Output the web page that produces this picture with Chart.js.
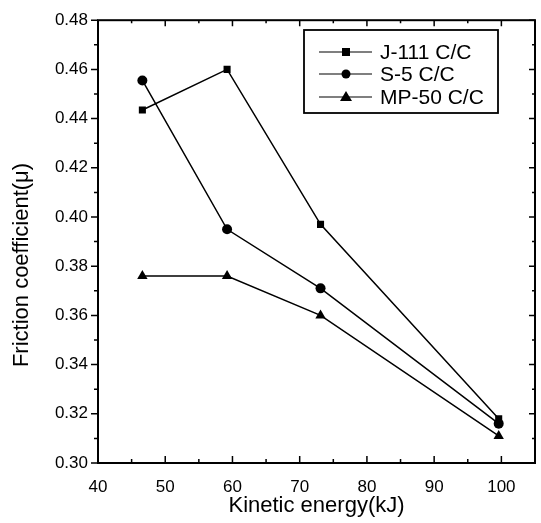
<!DOCTYPE html>
<html>
<head>
<meta charset="utf-8">
<script src="https://cdn.jsdelivr.net/npm/chart.js@4.4.0/dist/chart.umd.min.js"></script>
<style>
  html, body { margin: 0; padding: 0; background: #fff; }
  #wrap { width: 541px; height: 523px; position: relative; }
</style>
</head>
<body>
<div id="wrap"><canvas id="c" width="541" height="523"></canvas></div>
<script>
// ---- data ----
const energy = [46.6, 59.2, 73.1, 99.6];           // Kinetic energy (kJ)
const j111   = [0.4435, 0.460, 0.397, 0.318];      // J-111 C/C
const s5     = [0.4555, 0.395, 0.371, 0.316];      // S-5 C/C
const mp50   = [0.376, 0.376, 0.360, 0.311];       // MP-50 C/C
const seriesNames = ['J-111 C/C', 'S-5 C/C', 'MP-50 C/C'];
const xTicks = [40, 50, 60, 70, 80, 90, 100];
const yTicks = [0.30, 0.32, 0.34, 0.36, 0.38, 0.40, 0.42, 0.44, 0.46, 0.48];
const xTitle = 'Kinetic energy(kJ)';
const yTitle = 'Friction coefficient(\u03bc)';

const FONT = '"Liberation Sans", Arial, sans-serif';
const pts = (ys) => energy.map((x, i) => ({ x, y: ys[i] }));

function makeSet(label, ys, style, rad) {
  return {
    label, data: pts(ys),
    borderColor: '#000', backgroundColor: '#000',
    borderWidth: 1.5, pointStyle: style, pointRadius: rad,
    pointBorderWidth: 0, pointBackgroundColor: '#000', tension: 0
  };
}

// frame, ticks, y title and legend (positions from the chart's own scales)
const framePlugin = {
  id: 'frame',
  afterDraw(chart) {
    const { ctx, chartArea: a, scales } = chart;
    const xs = scales.x, ys = scales.y;
    ctx.save();
    ctx.strokeStyle = '#000';
    ctx.lineWidth = 2;
    ctx.strokeRect(a.left, a.top, a.right - a.left, a.bottom - a.top);
    ctx.lineWidth = 1.5;
    ctx.beginPath();
    yTicks.forEach((v, i) => {
      const p = ys.getPixelForValue(v);
      ctx.moveTo(a.left - 7, p); ctx.lineTo(a.left, p);
      ctx.moveTo(a.right, p); ctx.lineTo(a.right - 6, p);
      if (i < yTicks.length - 1) {
        const m = ys.getPixelForValue((v + yTicks[i + 1]) / 2);
        ctx.moveTo(a.left - 4, m); ctx.lineTo(a.left, m);
        ctx.moveTo(a.right, m); ctx.lineTo(a.right - 3, m);
      }
    });
    xTicks.forEach((v, i) => {
      const p = xs.getPixelForValue(v);
      ctx.moveTo(p, a.bottom); ctx.lineTo(p, a.bottom - 7);
      ctx.moveTo(p, a.top); ctx.lineTo(p, a.top + 6);
      const m = xs.getPixelForValue(v + (xTicks[1] - xTicks[0]) / 2);
      if (m < a.right - 1) {
        ctx.moveTo(m, a.bottom); ctx.lineTo(m, a.bottom - 4);
        ctx.moveTo(m, a.top); ctx.lineTo(m, a.top + 3);
      }
    });
    ctx.stroke();

    // y-axis title
    ctx.save();
    ctx.translate(22, 265);
    ctx.rotate(-Math.PI / 2);
    ctx.fillStyle = '#000';
    ctx.font = '22px ' + FONT;
    ctx.textAlign = 'center';
    ctx.textBaseline = 'middle';
    ctx.fillText(yTitle, 0, 0);
    ctx.restore();

    // legend box
    const bx = 304, by = 30, bw = 194, bh = 83;
    ctx.lineWidth = 1.8;
    ctx.strokeRect(bx, by, bw, bh);
    const rows = [52, 74, 97];
    chart.data.datasets.forEach((ds, i) => {
      const yy = rows[i];
      ctx.lineWidth = 1.2;
      ctx.beginPath();
      ctx.moveTo(319, yy); ctx.lineTo(372, yy);
      ctx.stroke();
      ctx.fillStyle = '#000';
      ctx.beginPath();
      if (ds.pointStyle === 'rect') {
        ctx.fillRect(342, yy - 4, 8, 8);
      } else if (ds.pointStyle === 'circle') {
        ctx.arc(346, yy, 4.5, 0, Math.PI * 2); ctx.fill();
      } else {
        ctx.moveTo(346, yy - 6); ctx.lineTo(352, yy + 4); ctx.lineTo(340, yy + 4); ctx.closePath(); ctx.fill();
      }
      ctx.font = '21px ' + FONT;
      ctx.textBaseline = 'middle';
      ctx.textAlign = 'left';
      ctx.fillText(ds.label, 380, yy + 1);
    });
    ctx.restore();
  }
};

new Chart(document.getElementById('c'), {
  type: 'line',
  data: {
    datasets: [
      makeSet(seriesNames[0], j111, 'rect', 5),
      makeSet(seriesNames[1], s5, 'circle', 5),
      makeSet(seriesNames[2], mp50, 'triangle', 6)
    ]
  },
  options: {
    responsive: false,
    animation: false,
    devicePixelRatio: 1,
    layout: { padding: { top: 14, right: 3, left: 0, bottom: 4 } },
    plugins: { legend: { display: false }, tooltip: { enabled: false } },
    scales: {
      x: {
        type: 'linear', min: 40, max: 105,
        afterBuildTicks: (s) => { s.ticks = xTicks.map(v => ({ value: v })); },
        afterFit: (s) => { s.height = 56; },
        grid: { display: false, drawTicks: false },
        border: { display: false },
        ticks: { color: '#000', font: { family: FONT, size: 17 }, padding: 14, maxRotation: 0,
                 callback: (v) => String(v) },
        title: { display: true, text: xTitle, color: '#000', font: { family: FONT, size: 22 }, padding: { top: 0, bottom: 0 } }
      },
      y: {
        type: 'linear', min: 0.30, max: 0.48,
        afterBuildTicks: (s) => { s.ticks = yTicks.map(v => ({ value: v })); },
        afterFit: (s) => { s.width = 98; },
        grid: { display: false, drawTicks: false },
        border: { display: false },
        ticks: { color: '#000', font: { family: FONT, size: 17 }, padding: 10,
                 callback: (v) => Number(v).toFixed(2) },
        title: { display: false, text: yTitle }
      }
    }
  },
  plugins: [framePlugin]
});
</script>
</body>
</html>
